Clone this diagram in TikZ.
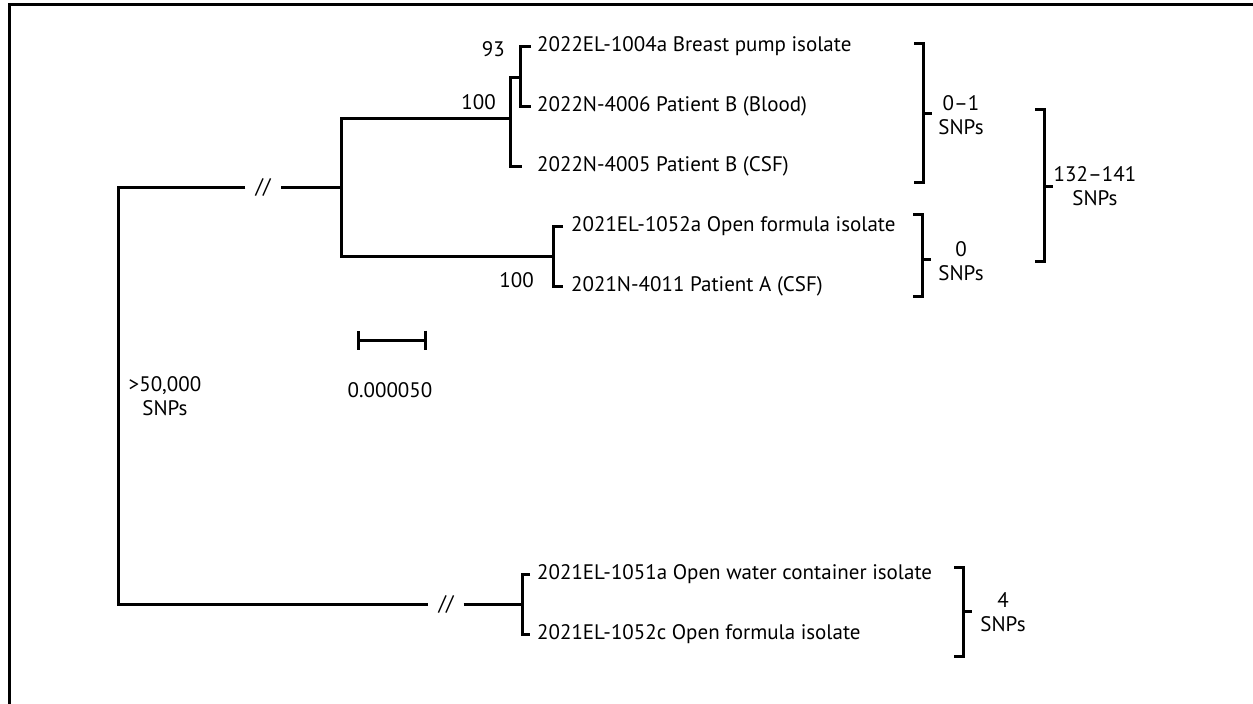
\documentclass[tikz,border=0pt]{standalone}
\usepackage{fontspec}
\setmainfont{PT Sans}
\usepackage{tikz}
\usetikzlibrary{arrows.meta,positioning}

\tikzset{
  branch/.style={line width=3pt},
  bracket/.style={line width=3pt},
  leaf/.style={anchor=west, inner sep=0pt, font=\fontsize{21}{24}\selectfont},
  support/.style={anchor=east, inner sep=0pt, font=\fontsize{21}{24}\selectfont},
  snps/.style={align=center, inner sep=0pt, font=\fontsize{21}{24}\selectfont},
  cut/.style={fill=white, inner xsep=10pt, inner ysep=1pt, font=\fontsize{21}{24}\selectfont}
}
% bracket: x of spine, top, bottom, y of tick
\newcommand\snpbracket[4]{%
  \draw[bracket] (#1-9,#2) -- (#1,#2) -- (#1,#3) -- (#1-9,#3);
  \draw[bracket] (#1,#4) -- (#1+9,#4);}

\begin{document}
\begin{tikzpicture}[x=1pt,y=-1pt]
        \useasboundingbox (0,0) rectangle (1253,704);
        \draw[line width=3pt] (9,704) -- (9,4) -- (1253,4);

        % leaves
        \node[leaf] (l1) at (537,46) {2022EL-1004a Breast pump isolate};
        \node[leaf] (l2) at (537,106) {2022N-4006 Patient B (Blood)};
        \node[leaf] (l3) at (537,166) {2022N-4005 Patient B (CSF)};
        \node[leaf] (l4) at (571,226) {2021EL-1052a Open formula isolate};
        \node[leaf] (l5) at (571,286) {2021N-4011 Patient A (CSF)};
        \node[leaf] (l6) at (537,574) {2021EL-1051a Open water container isolate};
        \node[leaf] (l7) at (537,634) {2021EL-1052c Open formula isolate};

        % inner nodes
        \coordinate (r1) at (118,187);
        \coordinate (r2) at (118,604);
        \coordinate (a) at (341,187);
        \coordinate (n1) at (510,118);
        \coordinate (n2) at (520,77);
        \coordinate (b) at (553,256);
        \coordinate (c) at (522,604);
        \node[cut] (cut1) at (263,187) {//};
        \node[cut] (cut2) at (446,604) {//};

        % tree
        \draw[branch] ([xshift=-6pt]l1.west) -| (n2) |- ([xshift=-6pt]l2.west);
        \draw[branch] (n2) -| (n1) |- ([xshift=-15pt]l3.west);
        \draw[branch] (n1) -| (a) |- (b);
        \draw[branch] ([xshift=-8pt]l4.west) -| (b) |- ([xshift=-8pt]l5.west);
        \draw[branch] ([xshift=-7pt]l6.west) -| (c) |- ([xshift=-7pt]l7.west);
        \draw[branch] (a) -- (cut1) -- (r1) -- (r2) -- (cut2) -- (c);

        % support values
        \node[support] (bs1) at (505,49) {93};
        \node[support] (bs2) at (496,102) {100};
        \node[support] (bs3) at (534,280) {100};

        % snp distances
        \snpbracket{923}{43}{182}{113}
        \node[snps] (d1) at (961,115) {0–1\\SNPs};
        \snpbracket{922}{214}{296}{259}
        \node[snps] (d2) at (961,261) {0\\SNPs};
        \snpbracket{1044}{109}{261}{186}
        \node[snps] (d3) at (1095,186) {132–141\\SNPs};
        \snpbracket{963}{567}{656}{611}
        \node[snps] (d4) at (1003,612) {4\\SNPs};
        \node[snps] (d5) at (165,396) {>50,000\\SNPs};

        % scale bar
        \coordinate (sbl) at (357,340);
        \coordinate (sbr) at (427,340);
        \draw[branch, {Bar[width=19pt]}-{Bar[width=19pt]}] (sbl) -- (sbr);
        \node[snps] (sblab) at (390,390) {0.000050};
    \end{tikzpicture}
\end{document}
